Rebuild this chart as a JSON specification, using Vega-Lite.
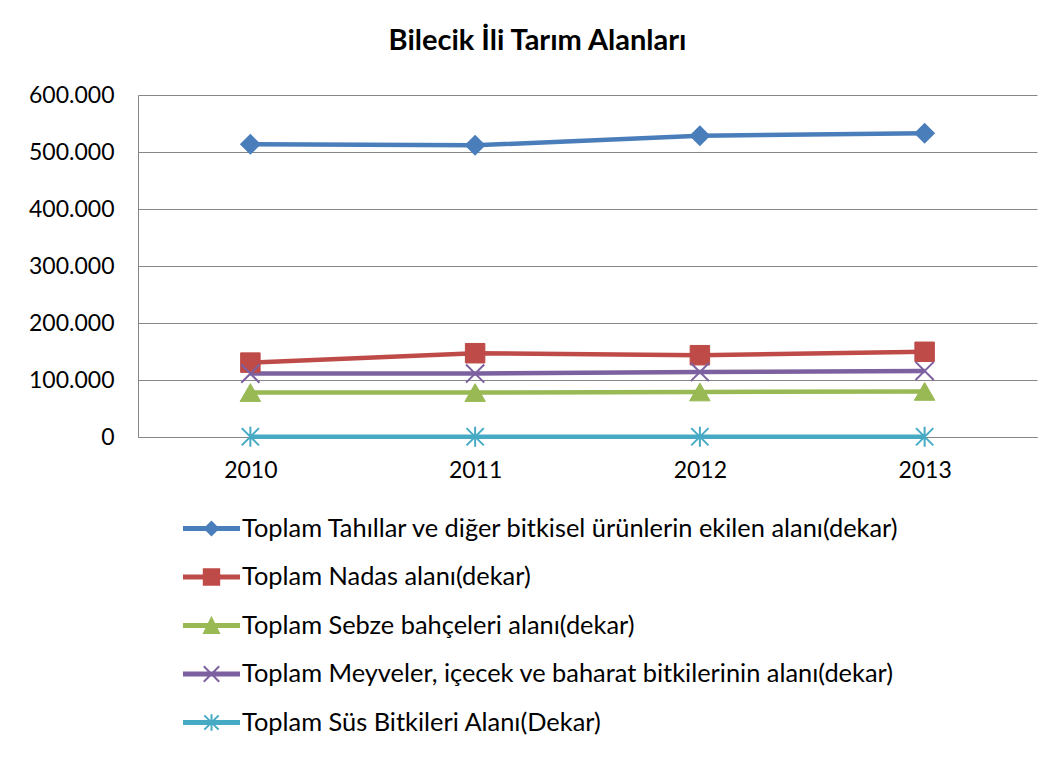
{
  "$schema": "https://vega.github.io/schema/vega-lite/v6.json",
  "width": 899,
  "height": 342,
  "autosize": "none",
  "padding": {"left": 138, "top": 95, "right": 20, "bottom": 321},
  "background": "white",
  "title": {
    "text": "Bilecik İli Tarım Alanları",
    "font": "Lato",
    "fontSize": 29,
    "fontWeight": "bold",
    "color": "black",
    "anchor": "middle",
    "dx": -50,
    "baseline": "alphabetic",
    "offset": 5
  },
  "config": {
    "view": {"stroke": null},
    "font": "Lato",
    "axis": {
      "labelFont": "Lato",
      "labelColor": "black",
      "labelFontSize": 23,
      "domainColor": "#868686",
      "gridColor": "#868686",
      "gridOpacity": 1,
      "tickSize": 0,
      "ticks": false,
      "title": null
    },
    "legend": {
      "orient": "none",
      "legendX": 45,
      "legendY": 405,
      "padding": 0,
      "title": null,
      "labelFont": "Lato",
      "labelFontSize": 25.4,
      "labelColor": "black",
      "labelLimit": 0,
      "labelOffset": 2,
      "symbolSize": 3025,
      "rowPadding": 6.5,
      "symbolStrokeWidth": 2
    }
  },
  "data": {
    "values": [
      {"year": "2010", "series": "Toplam Tahıllar ve diğer bitkisel ürünlerin ekilen alanı(dekar)", "value": 513500},
      {"year": "2011", "series": "Toplam Tahıllar ve diğer bitkisel ürünlerin ekilen alanı(dekar)", "value": 511800},
      {"year": "2012", "series": "Toplam Tahıllar ve diğer bitkisel ürünlerin ekilen alanı(dekar)", "value": 528500},
      {"year": "2013", "series": "Toplam Tahıllar ve diğer bitkisel ürünlerin ekilen alanı(dekar)", "value": 533000},
      {"year": "2010", "series": "Toplam Nadas alanı(dekar)", "value": 130500},
      {"year": "2011", "series": "Toplam Nadas alanı(dekar)", "value": 147000},
      {"year": "2012", "series": "Toplam Nadas alanı(dekar)", "value": 143500},
      {"year": "2013", "series": "Toplam Nadas alanı(dekar)", "value": 149500},
      {"year": "2010", "series": "Toplam Sebze bahçeleri alanı(dekar)", "value": 78000},
      {"year": "2011", "series": "Toplam Sebze bahçeleri alanı(dekar)", "value": 78000},
      {"year": "2012", "series": "Toplam Sebze bahçeleri alanı(dekar)", "value": 79000},
      {"year": "2013", "series": "Toplam Sebze bahçeleri alanı(dekar)", "value": 80000},
      {"year": "2010", "series": "Toplam Meyveler, içecek ve baharat bitkilerinin alanı(dekar)", "value": 111200},
      {"year": "2011", "series": "Toplam Meyveler, içecek ve baharat bitkilerinin alanı(dekar)", "value": 111300},
      {"year": "2012", "series": "Toplam Meyveler, içecek ve baharat bitkilerinin alanı(dekar)", "value": 114000},
      {"year": "2013", "series": "Toplam Meyveler, içecek ve baharat bitkilerinin alanı(dekar)", "value": 115800},
      {"year": "2010", "series": "Toplam Süs Bitkileri Alanı(Dekar)", "value": 500},
      {"year": "2011", "series": "Toplam Süs Bitkileri Alanı(Dekar)", "value": 500},
      {"year": "2012", "series": "Toplam Süs Bitkileri Alanı(Dekar)", "value": 500},
      {"year": "2013", "series": "Toplam Süs Bitkileri Alanı(Dekar)", "value": 500}
    ]
  },
  "encoding": {
    "x": {
      "field": "year",
      "type": "ordinal",
      "scale": {"type": "point", "padding": 0.5},
      "axis": {"labelAngle": 0, "labelPadding": 22, "grid": false, "domain": true}
    },
    "y": {
      "field": "value",
      "type": "quantitative",
      "scale": {"domain": [0, 600000], "nice": false},
      "axis": {
        "values": [0, 100000, 200000, 300000, 400000, 500000, 600000],
        "labelExpr": "replace(format(datum.value, ',d'), ',', '.')",
        "labelPadding": 24,
        "grid": true,
        "domain": true
      }
    }
  },
  "layer": [
    {
      "mark": {"type": "line", "strokeWidth": 4.5},
      "encoding": {
        "color": {
          "field": "series",
          "type": "nominal",
          "scale": {
            "domain": [
              "Toplam Tahıllar ve diğer bitkisel ürünlerin ekilen alanı(dekar)",
              "Toplam Nadas alanı(dekar)",
              "Toplam Sebze bahçeleri alanı(dekar)",
              "Toplam Meyveler, içecek ve baharat bitkilerinin alanı(dekar)",
              "Toplam Süs Bitkileri Alanı(Dekar)"
            ],
            "range": ["#4A7EBB", "#BE4B48", "#98B954", "#7D60A0", "#46AAC5"]
          },
          "legend": {
            "encode": {
              "symbols": {
                "update": {
                  "shape": {"signal": "indexof(datum.value,'Tahıllar')>=0 ? 'M-1,-0.055H1V0.055H-1Z M0,-0.24L0.24,0L0,0.24L-0.24,0Z' : indexof(datum.value,'Nadas')>=0 ? 'M-1,-0.055H1V0.055H-1Z M-0.28,-0.28H0.28V0.28H-0.28Z' : indexof(datum.value,'Sebze')>=0 ? 'M-1,-0.055H1V0.055H-1Z M0,-0.27L0.27,0.27H-0.27Z' : indexof(datum.value,'Meyveler')>=0 ? 'M-1,-0.055H1V0.055H-1Z M-0.28,-0.28L0.28,0.28M0.28,-0.28L-0.28,0.28' : 'M-1,-0.055H1V0.055H-1Z M-0.26,-0.26L0.26,0.26M0.26,-0.26L-0.26,0.26M0,-0.3V0.3'"},
                  "fill": {"scale": "color", "field": "value"},
                  "stroke": {"scale": "color", "field": "value"},
                  "strokeWidth": {"value": 2},
                  "size": {"value": 3025},
                  "opacity": {"value": 1},
                  "fillOpacity": {"value": 1},
                  "strokeDash": {"value": []}
                }
              }
            }
          }
        }
      }
    },
    {
      "transform": [{"filter": {"field": "series", "equal": "Toplam Tahıllar ve diğer bitkisel ürünlerin ekilen alanı(dekar)"}}],
      "mark": {"type": "point", "shape": "diamond", "filled": true, "size": 330, "strokeWidth": 2, "opacity": 1, "fill": "#4A7EBB", "stroke": "#4A7EBB"}
    },
    {
      "transform": [{"filter": {"field": "series", "equal": "Toplam Nadas alanı(dekar)"}}],
      "mark": {"type": "point", "shape": "square", "filled": true, "size": 380, "strokeWidth": 1, "opacity": 1, "fill": "#BE4B48", "stroke": "#BE4B48"}
    },
    {
      "transform": [{"filter": {"field": "series", "equal": "Toplam Sebze bahçeleri alanı(dekar)"}}],
      "mark": {"type": "point", "shape": "triangle-up", "filled": true, "size": 420, "strokeWidth": 1, "opacity": 1, "fill": "#98B954", "stroke": "#98B954"}
    },
    {
      "transform": [{"filter": {"field": "series", "equal": "Toplam Meyveler, içecek ve baharat bitkilerinin alanı(dekar)"}}],
      "mark": {"type": "point", "shape": "M-1,-1L1,1M1,-1L-1,1", "filled": false, "size": 330, "strokeWidth": 2, "opacity": 1, "stroke": "#7D60A0"}
    },
    {
      "transform": [{"filter": {"field": "series", "equal": "Toplam Süs Bitkileri Alanı(Dekar)"}}],
      "mark": {"type": "point", "shape": "M-0.95,-0.95L0.95,0.95M0.95,-0.95L-0.95,0.95M0,-1.1V1.1", "filled": false, "size": 330, "strokeWidth": 2, "opacity": 1, "stroke": "#46AAC5"}
    }
  ]
}
